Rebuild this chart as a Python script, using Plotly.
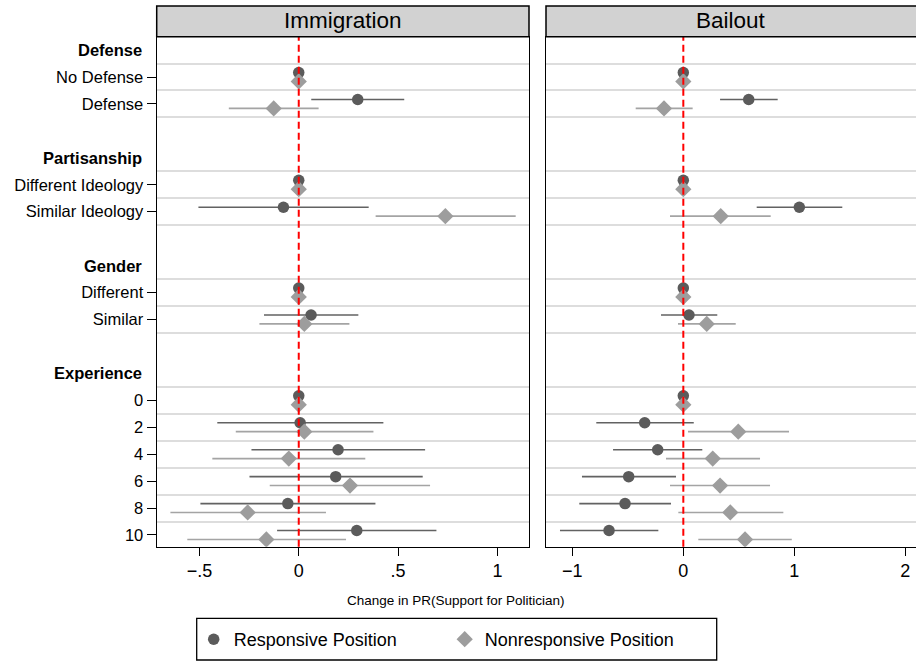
import plotly.graph_objects as go

# Row structure: group headers and the levels listed under each
group_names = ["Defense", "Partisanship", "Gender", "Experience"]
group_levels = [
    ["No Defense", "Defense"],
    ["Different Ideology", "Similar Ideology"],
    ["Different", "Similar"],
    ["0", "2", "4", "6", "8", "10"],
]

# Immigration issue: estimates and 95% intervals
imm_resp_est = [0, 0.297, 0, -0.077, 0, 0.062, 0, 0.007, 0.198, 0.186, -0.055, 0.292]
imm_resp_lo = [0, 0.063, 0, -0.505, 0, -0.175, 0, -0.410, -0.238, -0.248, -0.495, -0.109]
imm_resp_hi = [0, 0.531, 0, 0.352, 0, 0.300, 0, 0.426, 0.636, 0.624, 0.386, 0.693]
imm_non_est = [0, -0.126, 0, 0.738, 0, 0.028, 0, 0.028, -0.050, 0.258, -0.257, -0.163]
imm_non_lo = [0, -0.352, 0, 0.387, 0, -0.198, 0, -0.317, -0.435, -0.146, -0.646, -0.561]
imm_non_hi = [0, 0.100, 0, 1.092, 0, 0.255, 0, 0.376, 0.335, 0.661, 0.137, 0.238]

# Bailout issue: estimates and 95% intervals
bail_resp_est = [0, 0.589, 0, 1.045, 0, 0.051, 0, -0.348, -0.231, -0.492, -0.525, -0.669]
bail_resp_lo = [0, 0.331, 0, 0.661, 0, -0.201, 0, -0.784, -0.633, -0.913, -0.937, -1.111]
bail_resp_hi = [0, 0.850, 0, 1.432, 0, 0.306, 0, 0.094, 0.171, -0.066, -0.111, -0.225]
bail_non_est = [0, -0.174, 0, 0.337, 0, 0.211, 0, 0.495, 0.265, 0.331, 0.423, 0.556]
bail_non_lo = [0, -0.429, 0, -0.120, 0, -0.048, 0, 0.042, -0.156, -0.120, -0.045, 0.135]
bail_non_hi = [0, 0.084, 0, 0.787, 0, 0.472, 0, 0.952, 0.691, 0.781, 0.901, 0.977]

panel_titles = ["Immigration", "Bailout"]
imm_ticks = [-0.5, 0, 0.5, 1]
imm_ticktext = ["\u2212.5", "0", ".5", "1"]
bail_ticks = [-1, 0, 1, 2]
bail_ticktext = ["\u22121", "0", "1", "2"]
series_names = ["Responsive Position", "Nonresponsive Position"]

FONT = "Liberation Sans, Arial, Helvetica, sans-serif"
DARK, DARK_LINE = "#5b5b5b", "#626262"
LIGHT, LIGHT_LINE = "#9d9d9d", "#a4a4a4"
GRID = "#dddddd"

# Layout of rows: header, its levels, then one blank row between groups
header_pos, level_pos, level_text, boundaries = [], [], [], []
pos = 0
for name, levels in zip(group_names, group_levels):
    header_pos.append(pos)
    boundaries.append(pos + 0.5)
    for lev in levels:
        pos += 1
        level_pos.append(pos)
        level_text.append(lev)
        boundaries.append(pos + 0.5)
    pos += 2

OFF = 0.165
y_resp = [p - OFF for p in level_pos]
y_non = [p + OFF for p in level_pos]

fig = go.Figure()


def add_series(est, lo, hi, ys, color, line_color, symbol, size, name, xa, ya, show):
    fig.add_trace(go.Scatter(
        x=est, y=ys, mode="markers", name=name, showlegend=show,
        xaxis=xa, yaxis=ya,
        marker=dict(symbol=symbol, size=size, color=color, line=dict(width=0)),
        error_x=dict(type="data", symmetric=False,
                     array=[h - e for h, e in zip(hi, est)],
                     arrayminus=[e - l for e, l in zip(est, lo)],
                     color=line_color, thickness=1.6, width=0),
    ))


add_series(imm_resp_est, imm_resp_lo, imm_resp_hi, y_resp, DARK, DARK_LINE,
           "circle", 11.5, series_names[0], "x", "y", True)
add_series(imm_non_est, imm_non_lo, imm_non_hi, y_non, LIGHT, LIGHT_LINE,
           "diamond", 12.5, series_names[1], "x", "y", True)
add_series(bail_resp_est, bail_resp_lo, bail_resp_hi, y_resp, DARK, DARK_LINE,
           "circle", 11.5, series_names[0], "x2", "y2", False)
add_series(bail_non_est, bail_non_lo, bail_non_hi, y_non, LIGHT, LIGHT_LINE,
           "diamond", 12.5, series_names[1], "x2", "y2", False)

W, H = 916, 661
px = lambda v: v / W
py = lambda v: (H - v) / H

xdom1 = [px(156.7), px(529)]
xdom2 = [px(546), 1.0]
ydom = [py(546.7), py(36.7)]
yrange = [18.435, -0.496]

axis_common = dict(showline=True, linecolor="black", linewidth=1.3,
                   ticks="outside", ticklen=8, tickwidth=1.2, tickcolor="black",
                   showgrid=False, zeroline=False, mirror=True,
                   tickfont=dict(family=FONT, size=18, color="black"))

fig.update_layout(
    width=W, height=H,
    margin=dict(l=0, r=0, t=0, b=0),
    paper_bgcolor="white", plot_bgcolor="white",
    font=dict(family=FONT, color="black"),
    xaxis=dict(domain=xdom1, range=[-0.715, 1.159], anchor="y",
               tickvals=imm_ticks, ticktext=imm_ticktext, **axis_common),
    xaxis2=dict(domain=xdom2, range=[-1.237, 2.096], anchor="y2",
                tickvals=bail_ticks, ticktext=bail_ticktext, **axis_common),
    yaxis=dict(domain=ydom, range=yrange, anchor="x",
               showline=True, linecolor="black", linewidth=1.3, mirror=True,
               ticks="outside", ticklen=9, tickwidth=1.2, tickcolor="black",
               tickvals=level_pos, ticktext=level_text, zeroline=False,
               tickfont=dict(family=FONT, size=16.5, color="black"),
               showgrid=False,
               minor=dict(tickvals=boundaries, showgrid=True, gridcolor=GRID,
                          gridwidth=1.6, ticks="")),
    yaxis2=dict(domain=ydom, range=yrange, anchor="x2",
                showline=True, linecolor="black", linewidth=1.3, mirror=False,
                ticks="", showticklabels=False, zeroline=False, showgrid=False,
                minor=dict(tickvals=boundaries, showgrid=True, gridcolor=GRID,
                           gridwidth=1.6, ticks="")),
    showlegend=True,
    legend=dict(orientation="h", x=px(193.7), y=py(621), xanchor="left", yanchor="top",
                xref="paper", yref="paper",
                font=dict(family=FONT, size=18, color="black"),
                bgcolor="rgba(0,0,0,0)", borderwidth=0,
                entrywidth=206, entrywidthmode="pixels", itemclick=False),
)

# Zero reference lines
for xa in ["x", "x2"]:
    fig.add_shape(type="line", xref=xa, yref=f"{'y' if xa == 'x' else 'y2'} domain",
                  x0=0, x1=0, y0=0, y1=1,
                  line=dict(color="#ff0000", width=2, dash="7px,4px"))

# Panel strips
for dom, title in zip([xdom1, xdom2], panel_titles):
    fig.add_shape(type="rect", xref="paper", yref="paper",
                  x0=dom[0], x1=dom[1] + (0.01 if dom[1] >= 1 else 0),
                  y0=ydom[1], y1=py(6),
                  fillcolor="#d2d2d2", line=dict(color="black", width=1.5))
    fig.add_annotation(x=(dom[0] + dom[1]) / 2, y=py(21), xref="paper", yref="paper",
                       text=title, showarrow=False,
                       font=dict(family=FONT, size=22.5, color="black"),
                       xanchor="center", yanchor="middle")

# Group headers on the row axis
for name, p in zip(group_names, header_pos):
    fig.add_annotation(x=px(143.5), y=p, xref="paper", yref="y", text=f"<b>{name}</b>",
                       showarrow=False, xanchor="right", yanchor="middle",
                       font=dict(family=FONT, size=16.5, color="black"))

# Shared axis title
fig.add_annotation(x=0.4978, y=py(600), xref="paper", yref="paper",
                   text="Change in PR(Support for Politician)", showarrow=False,
                   xanchor="center", yanchor="middle",
                   font=dict(family=FONT, size=13.5, color="black"))

# Legend frame
fig.add_shape(type="rect", xref="paper", yref="paper",
              x0=px(196.7), x1=px(716.7), y0=py(660), y1=py(618.3),
              line=dict(color="black", width=1.3), fillcolor="rgba(0,0,0,0)")

fig.write_html("out.html")
